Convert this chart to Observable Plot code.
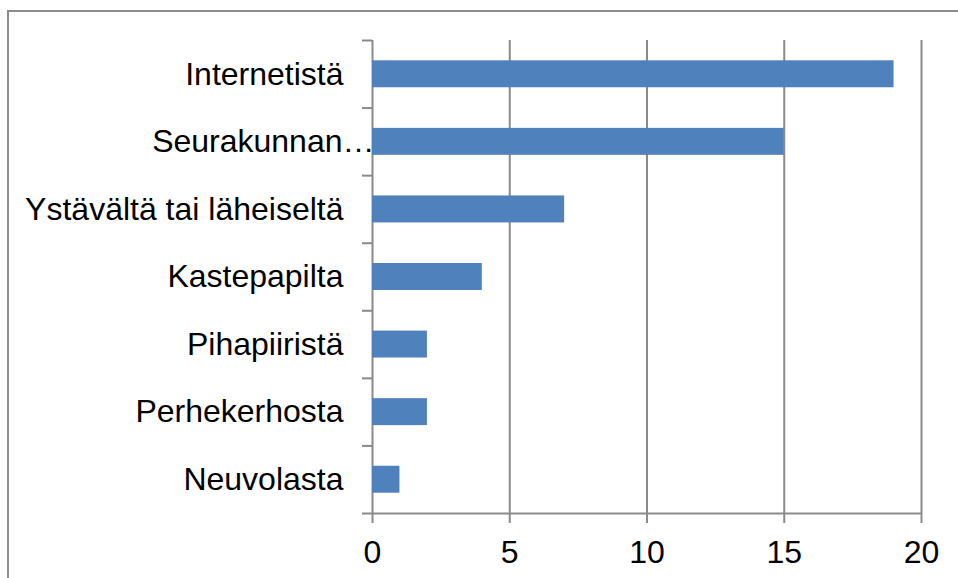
<!DOCTYPE html>
<html>
<head>
<meta charset="utf-8">
<script src="https://cdn.jsdelivr.net/npm/d3@7"></script>
<script src="https://cdn.jsdelivr.net/npm/@observablehq/plot@0.6"></script>
<style>
  html, body { margin: 0; padding: 0; background: #fff; overflow: hidden; }
  #wrap { position: relative; width: 958px; height: 578px; overflow: hidden; }
  #frame { position: absolute; left: 7px; top: 10px; width: 1000px; height: 1000px; border: 2px solid #8c8c8c; box-sizing: border-box; pointer-events: none; }
  svg { display: block; }
</style>
</head>
<body>
<div id="wrap"><div id="frame"></div></div>
<script>
const categories = ["Internetistä", "Seurakunnan…", "Ystävältä tai läheiseltä", "Kastepapilta", "Pihapiiristä", "Perhekerhosta", "Neuvolasta"];
const values = [19, 15, 7, 4, 2, 2, 1];
const xTicks = [0, 5, 10, 15, 20];

const data = categories.map((c, i) => ({category: c, value: values[i], i}));
const gray = "#8a8a8a";
const font = "'Liberation Sans', Arial, sans-serif";

const chart = Plot.plot({
  width: 958,
  height: 578,
  marginLeft: 372,
  marginRight: 37,
  marginTop: 40,
  marginBottom: 65,
  style: {fontFamily: font, background: "transparent", color: "#000"},
  x: {domain: [0, 20]},
  y: {domain: [0, categories.length], reverse: true},
  marks: [
    Plot.ruleX(xTicks, {y1: 0, y2: categories.length, stroke: gray, strokeWidth: 2}),
    Plot.ruleY([categories.length], {x1: 0, x2: 20, stroke: gray, strokeWidth: 2}),
    Plot.axisY({ticks: d3.range(categories.length + 1), tickSize: 10, tickFormat: () => "", stroke: gray, strokeWidth: 2}),
    Plot.axisX({ticks: xTicks, tickSize: 10, tickPadding: 17, fontSize: 32, stroke: gray, strokeWidth: 2, fill: "#000", label: null}),
    Plot.rectX(data, {x1: 0, x2: "value", y1: d => d.i, y2: d => d.i + 1, insetTop: 20.3, insetBottom: 20.3, fill: "#4f81bd"}),
    Plot.text(data.filter(d => !d.category.endsWith("…")), {x: 0, y: d => d.i + 0.5, text: "category", textAnchor: "end", dx: -29, fontSize: 32, fill: "#000"}),
    Plot.text(data.filter(d => d.category.endsWith("…")), {x: 0, y: d => d.i + 0.5, text: "category", textAnchor: "end", dx: 2, fontSize: 32, fill: "#000"})
  ]
});

document.getElementById("wrap").prepend(chart);
</script>
</body>
</html>
